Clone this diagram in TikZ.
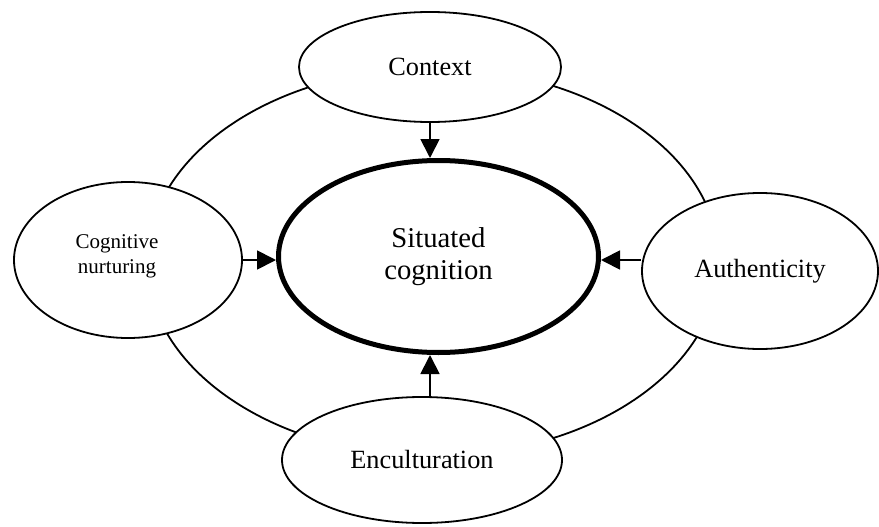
\documentclass[tikz,border=0pt]{standalone}
\usepackage{fontspec}
\setmainfont{Liberation Serif}
\usetikzlibrary{shapes.geometric,arrows.meta}
\begin{document}
\begin{tikzpicture}[x=1pt,y=-1pt,
  oval/.style={ellipse,draw,fill=white,line width=1.8pt,inner sep=0pt},
  arr/.style={line width=1.8pt,-{Triangle[length=19pt,width=19pt]}},
  bigtext/.style={font=\fontsize{26.3}{30}\selectfont},
]
\useasboundingbox (0,0) rectangle (879,527);
\draw[line width=1.8pt] (433,262) ellipse [x radius=286, y radius=194];
\node[oval, line width=5pt, minimum width=320pt, minimum height=192pt,
      font=\fontsize{28.7}{32}\selectfont, align=center] (sc) at (438.5,256.5) {Situated\\cognition};
\node[oval, minimum width=262pt, minimum height=110pt, bigtext] (ctx) at (430,67) {Context};
\node[oval, minimum width=228pt, minimum height=156pt] (cog) at (128,260) {};
\node[font=\fontsize{21}{25}\selectfont, align=center] (cogt) at (117,256) {Cognitive\\nurturing};
\node[oval, minimum width=236pt, minimum height=156pt, bigtext] (aut) at (760,271) {Authenticity};
\node[oval, minimum width=280pt, minimum height=126pt, bigtext] (enc) at (422,460) {Enculturation};
\draw[arr] (ctx.south) -- (ctx.south |- sc.north);
\draw[arr] (enc.north -| ctx.south) -- (sc.south -| ctx.south);
\draw[arr] (cog.east) -- (cog.east -| sc.west);
\draw[arr] (aut.west |- cog.east) -- (sc.east |- cog.east);
\end{tikzpicture}
\end{document}
